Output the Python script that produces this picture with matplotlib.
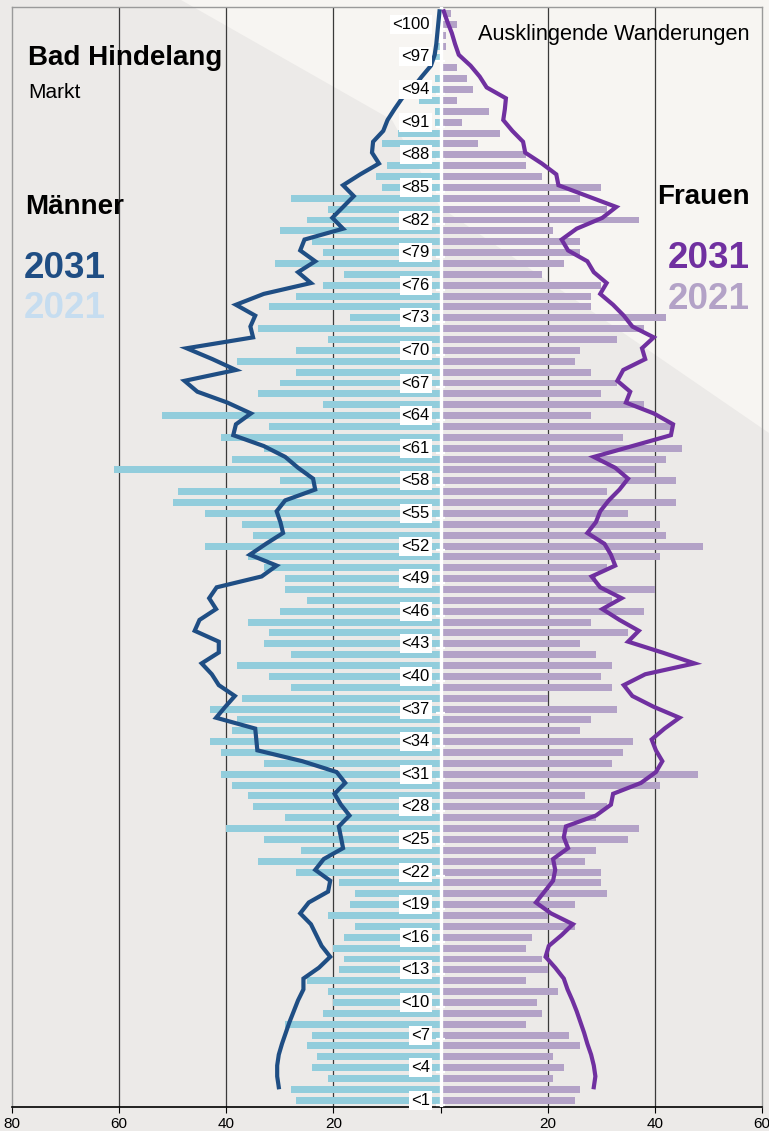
import matplotlib.pyplot as plt
import numpy as np
from matplotlib.patches import Polygon

plt.rcParams["font.family"] = ["Liberation Sans", "DejaVu Sans"]

# 2021 population by single year of age (0..100)
men_2021 = [27, 28, 21, 24, 23, 25, 24, 29, 22, 20,
            21, 25, 19, 18, 20, 18, 16, 21, 17, 16,
            19, 27, 34, 26, 33, 40, 29, 35, 36, 39,
            41, 33, 41, 43, 39, 38, 43, 37, 28, 32,
            38, 28, 33, 32, 36, 30, 25, 29, 29, 33,
            36, 44, 35, 37, 44, 50, 49, 30, 61, 39,
            33, 41, 32, 52, 22, 34, 30, 27, 38, 27,
            21, 34, 17, 32, 27, 22, 18, 31, 22, 24,
            30, 25, 21, 28, 11, 12, 10, 2, 11, 8,
            1, 1, 4, 3, 1, 0, 1, 1, 0, 0, 0]
women_2021 = [25, 26, 21, 23, 21, 26, 24, 16, 19, 18,
              22, 16, 20, 19, 16, 17, 25, 20, 25, 31,
              30, 30, 27, 29, 35, 37, 29, 31, 27, 41,
              48, 32, 34, 36, 26, 28, 33, 20, 32, 30,
              32, 29, 26, 35, 28, 38, 32, 40, 29, 31,
              41, 49, 42, 41, 35, 44, 31, 44, 40, 42,
              45, 34, 43, 28, 38, 30, 33, 28, 25, 26,
              33, 38, 42, 28, 28, 30, 19, 23, 26, 26,
              21, 37, 31, 26, 30, 19, 16, 16, 7, 11,
              4, 9, 3, 6, 5, 3, 0, 1, 1, 3, 2]

# 2031 projection, ages 1..100
men_2031 = [30.2, 30.5, 30.5, 30.2, 29.6, 28.9, 28.2, 27.4, 26.6, 25.6,
            25.6, 22.7, 20.6, 22.2, 23.2, 24.2, 26.2, 24.6, 21.0, 20.6,
            23.4, 21.8, 18.2, 18.6, 19.0, 17.0, 18.6, 19.8, 17.8, 19.4,
            25.8, 34.2, 34.4, 34.6, 41.9, 40.2, 38.4, 41.4, 42.7, 44.6,
            41.4, 41.4, 45.9, 45.0, 41.9, 43.2, 41.8, 33.4, 30.6, 35.6,
            32.6, 29.4, 29.9, 30.6, 29.0, 23.4, 23.8, 26.6, 29.0, 33.0,
            38.7, 38.2, 35.4, 39.8, 45.4, 47.8, 38.2, 42.6, 47.4, 35.0,
            35.5, 34.6, 38.2, 33.0, 24.2, 26.6, 23.4, 26.2, 25.4, 18.2,
            20.2, 18.2, 16.2, 18.2, 15.0, 11.5, 12.8, 12.6, 10.7, 9.9,
            8.6, 7.2, 5.1, 3.5, 1.8, 1.1, 0.8, 0.6, 0.4, 0.2]
women_2031 = [28.6, 28.9, 28.6, 28.1, 27.4, 26.8, 26.1, 25.4, 24.6, 23.7,
              23.0, 21.4, 19.6, 20.2, 22.6, 24.7, 20.6, 17.8, 19.4, 21.0,
              21.4, 21.0, 23.8, 23.0, 23.4, 29.0, 31.8, 32.2, 37.4, 40.2,
              41.4, 40.2, 39.4, 41.8, 44.6, 39.8, 35.8, 34.2, 38.2, 47.4,
              41.4, 35.0, 37.0, 33.4, 30.2, 33.8, 29.8, 28.2, 32.6, 31.8,
              30.6, 27.4, 29.0, 29.8, 31.4, 33.4, 35.0, 32.6, 28.6, 35.8,
              43.0, 43.4, 39.8, 34.6, 35.4, 33.0, 34.1, 38.2, 37.6, 39.8,
              35.8, 34.2, 32.2, 29.8, 31.0, 28.6, 27.4, 23.8, 22.6, 25.4,
              30.2, 32.8, 27.4, 22.0, 21.6, 18.9, 15.8, 15.4, 13.4, 11.7,
              12.0, 12.2, 8.6, 7.3, 5.6, 3.4, 2.7, 2.1, 1.3, 0.6]

age_labels = ["<%d" % k for k in range(1, 101, 3)]
xtick_vals = [-80, -60, -40, -20, 0, 20, 40, 60]
xtick_text = ["80", "60", "40", "20", "", "20", "40", "60"]

C_MEN_BAR = "#92CDDC"
C_WOMEN_BAR = "#B3A2C7"
C_MEN_LINE = "#1F4E84"
C_WOMEN_LINE = "#7030A0"

W, H = 769, 1131
fig = plt.figure(figsize=(W / 100, H / 100), dpi=100)
fig.patch.set_facecolor("#ECEAE8")

# background axes with the lighter diagonal area
bg = fig.add_axes([0, 0, 1, 1], zorder=-1)
bg.set_xlim(0, W)
bg.set_ylim(H, 0)
bg.axis("off")
bg.add_patch(Polygon([(181, 0), (W, 0), (W, 433), (440, 207), (392, 120)],
                     closed=True, facecolor="#F7F5F2", edgecolor="none"))

ax = fig.add_axes([12 / W, 24 / H, 750 / W, 1100 / H], zorder=1)
ax.set_facecolor("none")

ages = np.arange(len(men_2021))
ax.barh(ages, -np.array(men_2021), height=0.64, color=C_MEN_BAR, zorder=2)
ax.barh(ages, women_2021, height=0.64, color=C_WOMEN_BAR, zorder=2)

line_y = np.arange(1, 101) + 0.2
ax.plot(-np.array(men_2031), line_y, color=C_MEN_LINE, lw=3, zorder=4,
        solid_joinstyle="miter")
ax.plot(women_2031, line_y, color=C_WOMEN_LINE, lw=3, zorder=4,
        solid_joinstyle="miter")

# grid lines behind bars
for gx in [-60, -40, -20, 20, 40]:
    ax.axvline(gx, color="#3a3a3a", lw=0.9, zorder=1)

# white centre line with small ticks
ax.axvline(0, color="white", lw=2.4, zorder=3)
label_rows = np.arange(0, 100, 3)
ax.hlines(label_rows - 0.4, -0.9, 0.9, color="white", lw=1.6, zorder=3)

for r, lab in zip(label_rows, age_labels):
    ax.text(-2.0, r, lab, ha="right", va="center", fontsize=12, zorder=5,
            bbox=dict(boxstyle="square,pad=0.12", fc="white", ec="none"))

ax.set_xlim(-80, 60)
ax.set_ylim(-0.62, 100.6)
ax.set_xticks(xtick_vals)
ax.set_xticklabels(xtick_text, fontsize=11)
ax.tick_params(axis="x", length=4, width=0.8, pad=3)
ax.set_yticks([])
for s in ["left", "right", "top"]:
    ax.spines[s].set_color("#9a9a9a")
    ax.spines[s].set_linewidth(1.0)
ax.spines["bottom"].set_color("black")
ax.spines["bottom"].set_linewidth(1.2)

# titles and legends
def ftext(x, y, s, **kw):
    fig.text(x / W, 1 - y / H, s, va="baseline", **kw)

ftext(28, 65, "Bad Hindelang", fontsize=20, fontweight="bold")
ftext(28, 98, "Markt", fontsize=15)
ftext(25, 214, "Männer", fontsize=20, fontweight="bold")
ftext(24, 278, "2031", fontsize=26.5, fontweight="bold", color=C_MEN_LINE)
ftext(24, 318, "2021", fontsize=26.5, fontweight="bold", color="#C6DDF0")
ftext(750, 204, "Frauen", fontsize=20, fontweight="bold", ha="right")
ftext(750, 268, "2031", fontsize=26.5, fontweight="bold", color=C_WOMEN_LINE, ha="right")
ftext(750, 309, "2021", fontsize=26.5, fontweight="bold", color=C_WOMEN_BAR, ha="right")
ftext(750, 40, "Ausklingende Wanderungen", fontsize=15.7, ha="right")

fig.savefig("out.png", dpi=100, facecolor=fig.get_facecolor())
